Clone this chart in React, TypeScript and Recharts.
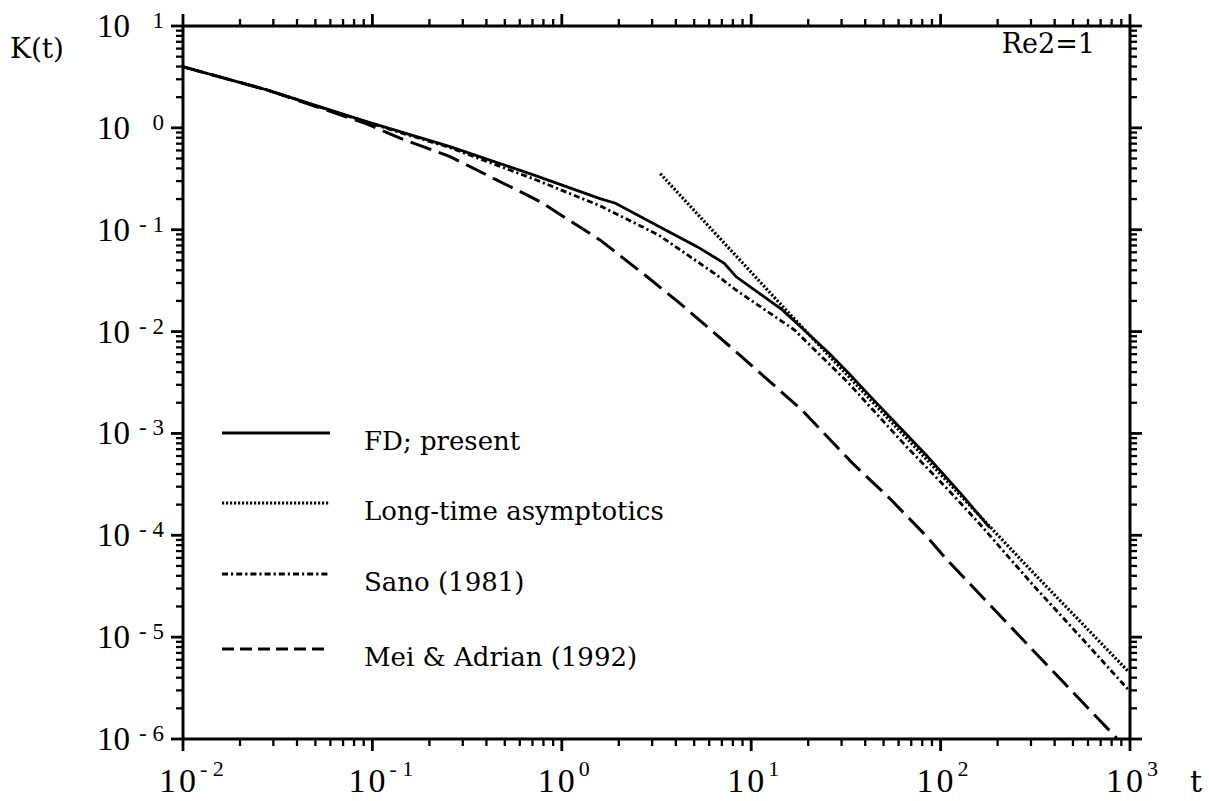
import React from "react";
import { LineChart, Line, XAxis, YAxis, Legend } from "recharts";

// values: t and K(t)
const fdT = [0.01, 0.0277, 0.0933, 0.257, 0.708, 1.59, 1.92, 3.39, 5.18, 7.21, 8.3, 14.6, 19.4, 25.8, 32.7, 43.4, 60.3, 83.9, 132, 182];
const fdK = [3.98, 2.36, 1.15, 0.655, 0.345, 0.202, 0.182, 0.1035, 0.0682, 0.0469, 0.0347, 0.0163, 0.01, 0.00614, 0.00391, 0.00222, 0.00117, 0.000614, 0.00024, 0.000118];

const asymT = [3.31, 14.6, 308, 980];
const asymK = [0.355, 0.0178, 4.3e-5, 4.6e-6];

const sanoT = [0.01, 0.0277, 0.0933, 0.257, 0.708, 1.59, 3.24, 6.56, 8.3, 16.9, 32.7, 66.1, 114, 161, 308, 566, 980];
const sanoK = [3.98, 2.36, 1.135, 0.638, 0.316, 0.172, 0.0889, 0.036, 0.0256, 0.0104, 0.00311, 0.000741, 0.000259, 0.000129, 3.24e-5, 9.42e-6, 3.05e-6];

const meiT = [0.01, 0.0277, 0.0933, 0.14, 0.257, 0.767, 1.59, 2.81, 4.3, 8.11, 18.5, 34.2, 53.6, 84.5, 108, 308, 851];
const meiK = [3.98, 2.36, 1.096, 0.791, 0.522, 0.189, 0.0794, 0.0347, 0.0183, 0.00661, 0.0017, 0.000512, 0.000232, 9.73e-5, 5.75e-5, 7.4e-6, 1.02e-6];

const seriesNames = ["FD; present", "Long-time asymptotics", "Sano (1981)", "Mei & Adrian (1992)"];

// decade exponents for the axes
const xDecades = [-2, -1, 0, 1, 2, 3];
const yDecades = [-6, -5, -4, -3, -2, -1, 0, 1];
const mults = [1, 2, 3, 4, 5, 6, 7, 8, 9];

const FONT = "'DejaVu Serif', serif";
const NUM_FONT = "'Liberation Serif', serif";

const rows = (ts: number[], ks: number[]) => ts.map((t, i) => ({ t, k: ks[i] }));
const fdData = rows(fdT, fdK);
const asymData = rows(asymT, asymK);
const sanoData = rows(sanoT, sanoK);
const meiData = rows(meiT, meiK);

const makeTicks = (decs: number[]) =>
  decs.flatMap((d, i) => (i === decs.length - 1 ? [Math.pow(10, d)] : mults.map((m) => m * Math.pow(10, d))));
const xTicks = makeTicks(xDecades);
const yTicks = makeTicks(yDecades);

const isMajor = (v: number) => Math.abs(Math.log10(v) - Math.round(Math.log10(v))) < 1e-6;
const supText = (v: number) => {
  const e = Math.round(Math.log10(v));
  return e < 0 ? `- ${-e}` : `${e}`;
};

const styles = [
  { dash: undefined, width: 2.8, legendDash: undefined },
  { dash: "2.2 1.8", width: 3.2, legendDash: "2.2 1.8" },
  { dash: "6 3 2.2 3", width: 2.8, legendDash: "6 3 2.2 3" },
  { dash: "22 8", width: 3, legendDash: "12 6" },
];

const XTick = (props: any) => {
  const { x, y, payload, side } = props;
  const v = payload.value;
  const major = isMajor(v);
  const len = major ? 12 : 7;
  const d = side === "bottom" ? 1 : -1;
  return (
    <g>
      <line x1={x} x2={x} y1={y} y2={y + d * len} stroke="#000" strokeWidth={major ? 2.8 : 2.3} />
      {side === "bottom" && major && (
        <g fontFamily={NUM_FONT} fill="#000">
          <text x={x - 24} y={y + 53} fontSize={34} letterSpacing={3}>10</text>
          <text x={x + 17} y={y + 37} fontSize={22}>{supText(v)}</text>
        </g>
      )}
    </g>
  );
};

const YTick = (props: any) => {
  const { x, y, payload, side } = props;
  const v = payload.value;
  const major = isMajor(v);
  const len = major ? 12 : 7;
  const d = side === "left" ? -1 : 1;
  return (
    <g>
      <line x1={x} x2={x + d * len} y1={y} y2={y} stroke="#000" strokeWidth={major ? 2.8 : 2.3} />
      {side === "left" && major && (
        <g fontFamily={NUM_FONT} fill="#000">
          <text x={x - 86} y={y + 11} fontSize={33}>10</text>
          <text x={x - 19} y={y + 2} fontSize={23} textAnchor="end">{supText(v)}</text>
        </g>
      )}
    </g>
  );
};

const AbsText = ({ px, py, text, anchor, size }: any) => (
  <text x={px} y={py} fontFamily={FONT} fontSize={size || 27} fill="#000" textAnchor={anchor || "start"}>
    {text}
  </text>
);

const legendRows = [23, 93, 164, 239];

const renderLegend = () => (
  <svg width={520} height={260} style={{ overflow: "visible" }}>
    {seriesNames.map((name, i) => (
      <g key={name}>
        <line
          x1={22}
          x2={130}
          y1={legendRows[i]}
          y2={legendRows[i]}
          stroke="#000"
          strokeWidth={2.8}
          strokeDasharray={styles[i].legendDash}
        />
        <text x={164} y={legendRows[i] + 17} fontFamily={FONT} fontSize={26} fill="#000">
          {name}
        </text>
      </g>
    ))}
  </svg>
);

const axisLine = { stroke: "#000", strokeWidth: 3 };

export default function App() {
  const datasets = [fdData, asymData, sanoData, meiData];
  return (
    <div style={{ position: "absolute", left: 0, top: 0, background: "#fff" }}>
      <LineChart width={1209} height={801} margin={{ top: 6, right: 59, bottom: 12, left: 83 }}>
        <XAxis
          xAxisId="b"
          orientation="bottom"
          type="number"
          dataKey="t"
          scale="log"
          domain={[0.01, 1000]}
          allowDataOverflow
          ticks={xTicks}
          interval={0}
          tickSize={0}
          tickMargin={0}
          tickLine={false}
          axisLine={axisLine}
          height={50}
          tick={(p: any) => <XTick {...p} side="bottom" />}
          label={<AbsText px={1190} py={792} text="t" size={30} />}
        />
        <XAxis
          xAxisId="t"
          orientation="top"
          type="number"
          dataKey="t"
          scale="log"
          domain={[0.01, 1000]}
          allowDataOverflow
          ticks={xTicks}
          interval={0}
          tickSize={0}
          tickMargin={0}
          tickLine={false}
          axisLine={axisLine}
          height={20}
          tick={(p: any) => <XTick {...p} side="top" />}
          label={<AbsText px={1095} py={53} text="Re2=1" anchor="end" />}
        />
        <YAxis
          yAxisId="l"
          orientation="left"
          type="number"
          scale="log"
          domain={[1e-6, 10]}
          allowDataOverflow
          ticks={yTicks}
          interval={0}
          tickSize={0}
          tickMargin={0}
          tickLine={false}
          axisLine={axisLine}
          width={100}
          tick={(p: any) => <YTick {...p} side="left" />}
          label={<AbsText px={10} py={58} text="K(t)" size={28} />}
        />
        <YAxis
          yAxisId="r"
          orientation="right"
          type="number"
          scale="log"
          domain={[1e-6, 10]}
          allowDataOverflow
          ticks={yTicks}
          interval={0}
          tickSize={0}
          tickMargin={0}
          tickLine={false}
          axisLine={axisLine}
          width={20}
          tick={(p: any) => <YTick {...p} side="right" />}
        />
        {datasets.map((data, i) => (
          <Line
            key={seriesNames[i]}
            xAxisId="b"
            yAxisId="l"
            data={data}
            dataKey="k"
            name={seriesNames[i]}
            type="linear"
            stroke="#000"
            strokeWidth={styles[i].width}
            strokeDasharray={styles[i].dash}
            dot={false}
            isAnimationActive={false}
          />
        ))}
        <Legend
          layout="vertical"
          align="center"
          verticalAlign="middle"
          content={renderLegend}
          wrapperStyle={{ left: 200, top: 410, width: 520, height: 260 }}
        />
      </LineChart>
    </div>
  );
}
